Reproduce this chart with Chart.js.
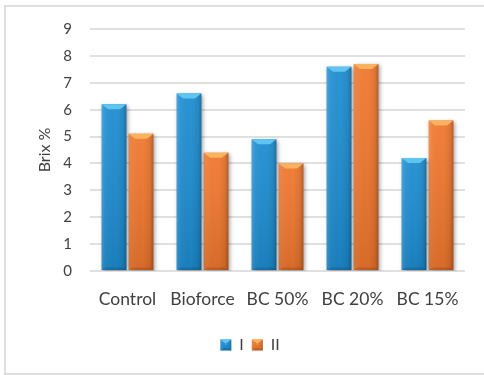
<!DOCTYPE html>
<html>
<head>
<meta charset="utf-8">
<script src="https://cdn.jsdelivr.net/npm/chart.js@4"></script>
<style>
  body { margin: 0; background: #fff; }
  .frame { position: absolute; left: 4px; top: 5px; width: 500px; height: 366px; border: 2px solid #dedede; }
  .wrap { position: absolute; left: 0; top: 0; width: 484px; height: 375px; }
</style>
</head>
<body>
<div class="frame"></div>
<div class="wrap"><canvas id="myChart"></canvas></div>
<script>
var categories = ["Control", "Bioforce", "BC 50%", "BC 20%", "BC 15%"];
var seriesI = [6.2, 6.6, 4.9, 7.6, 4.2];
var seriesII = [5.1, 4.4, 4.0, 7.7, 5.6];
var yMax = 9;

var FONT = "Lato, 'Open Sans', sans-serif";

// paints the bevel + side shading over a bar rectangle
function shadeBar(ctx, x, y, w, h, light, dark) {
  var g = ctx.createLinearGradient(x, 0, x + w, 0);
  g.addColorStop(0, "rgba(255,255,255,0.16)");
  g.addColorStop(0.14, "rgba(255,255,255,0.04)");
  g.addColorStop(0.6, "rgba(0,0,0,0)");
  g.addColorStop(0.86, "rgba(0,0,0,0.08)");
  g.addColorStop(1, "rgba(0,0,0,0.28)");
  ctx.fillStyle = g;
  ctx.fillRect(x, y, w, h);

  var v = ctx.createLinearGradient(0, y, 0, y + h);
  v.addColorStop(0, "rgba(255,255,255,0.06)");
  v.addColorStop(1, "rgba(0,0,0,0.10)");
  ctx.fillStyle = v;
  ctx.fillRect(x, y, w, h);

  var b = Math.min(5, h / 2);
  // top face
  ctx.beginPath();
  ctx.moveTo(x, y);
  ctx.lineTo(x + w, y);
  ctx.lineTo(x + w - b * 1.3, y + b);
  ctx.lineTo(x + b * 1.3, y + b);
  ctx.closePath();
  ctx.fillStyle = light;
  ctx.fill();
  // bottom face
  ctx.beginPath();
  ctx.moveTo(x, y + h);
  ctx.lineTo(x + w, y + h);
  ctx.lineTo(x + w - b * 0.8, y + h - b * 0.5);
  ctx.lineTo(x + b * 0.8, y + h - b * 0.5);
  ctx.closePath();
  ctx.fillStyle = dark;
  ctx.fill();
}

var bevelBars = {
  id: "bevelBars",
  beforeDatasetsDraw: function(chart) {
    var ctx = chart.ctx;
    ctx.save();
    ctx.shadowColor = "rgba(0,0,0,0.35)";
    ctx.shadowBlur = 4;
    ctx.shadowOffsetX = 1.5;
    ctx.shadowOffsetY = 1.5;
  },
  afterDatasetsDraw: function(chart) {
    var ctx = chart.ctx;
    ctx.restore();
    chart.data.datasets.forEach(function(ds, di) {
      chart.getDatasetMeta(di).data.forEach(function(bar) {
        shadeBar(ctx, bar.x - bar.width / 2, bar.y, bar.width, bar.base - bar.y, ds.lightColor, ds.darkColor);
      });
    });
  },
  afterDraw: function(chart) {
    var ctx = chart.ctx;
    var boxes = chart.legend.legendHitBoxes || [];
    boxes.forEach(function(hb, i) {
      var ds = chart.data.datasets[i];
      var s = 11;
      var y = hb.top + (hb.height - s) / 2;
      shadeBar(ctx, hb.left, y, s, s, ds.lightColor, ds.darkColor);
    });
  }
};

var ctx = document.getElementById("myChart").getContext("2d");
var chart = new Chart(ctx, {
  type: "bar",
  data: {
    labels: categories,
    datasets: [
      {
        label: "I",
        data: seriesI,
        backgroundColor: "#1d8dd1",
        lightColor: "#5ec4f0",
        darkColor: "rgba(0,40,80,0.18)"
      },
      {
        label: "II",
        data: seriesII,
        backgroundColor: "#f0772e",
        lightColor: "#fbb25e",
        darkColor: "rgba(90,30,0,0.18)"
      }
    ]
  },
  options: {
    responsive: true,
    maintainAspectRatio: false,
    animation: false,
    categoryPercentage: 0.72,
    barPercentage: 0.92,
    layout: { padding: { left: 35, right: 19, top: 29, bottom: 12 } },
    plugins: {
      tooltip: { enabled: false },
      legend: {
        position: "bottom",
        labels: {
          boxWidth: 11,
          boxHeight: 11,
          padding: 8,
          color: "#404040",
          font: { family: FONT, size: 16 }
        }
      }
    },
    scales: {
      x: {
        grid: { display: false, drawTicks: false },
        border: { display: false },
        ticks: {
          color: "#404040",
          font: { family: FONT, size: 17.5 },
          padding: 18,
          autoSkip: false,
          maxRotation: 0
        },
        afterFit: function(scale) { scale.height = 58; }
      },
      y: {
        min: 0,
        max: yMax,
        grid: { color: "#e0e0e0", lineWidth: 2, drawTicks: false },
        border: { display: false },
        ticks: {
          stepSize: 1,
          color: "#404040",
          font: { family: FONT, size: 15 },
          padding: 18
        },
        title: {
          display: true,
          text: "Brix %",
          color: "#404040",
          font: { family: FONT, size: 16 },
          padding: 0
        },
        afterFit: function(scale) { scale.width = 55; }
      }
    }
  },
  plugins: [bevelBars]
});
</script>
</body>
</html>
